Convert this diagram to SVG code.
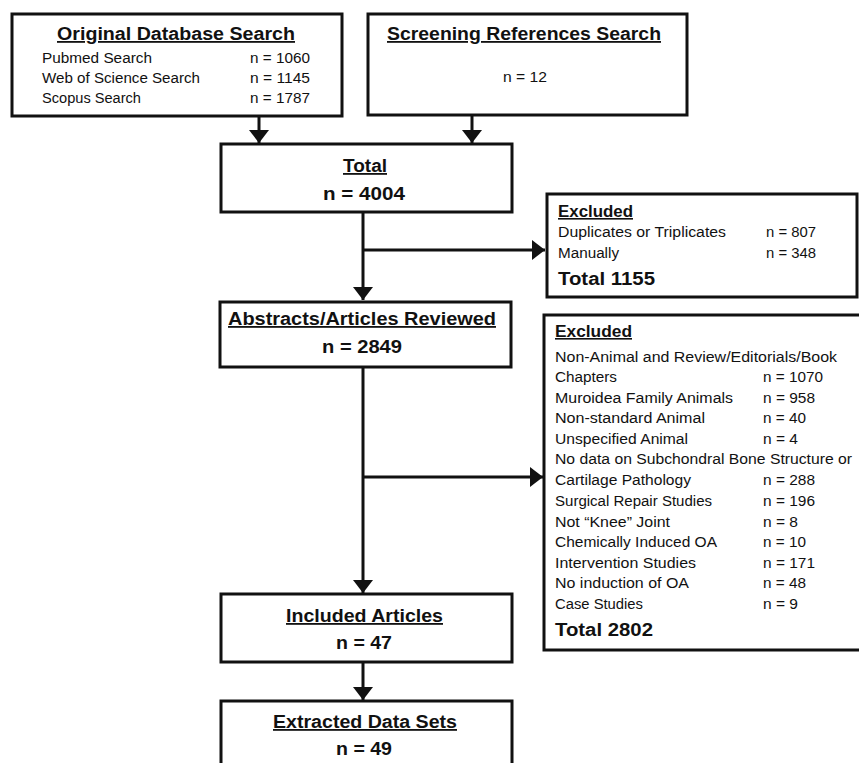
<svg xmlns="http://www.w3.org/2000/svg" width="859" height="763" viewBox="0 0 859 763">
<style>
.box{fill:#fff;stroke:#111;stroke-width:3}
.c{fill:none;stroke:#111;stroke-width:3}
text{font-family:"Liberation Sans",Arial,sans-serif;fill:#111}
.h{font-weight:bold;font-size:18px;text-decoration:underline}
.hs{font-weight:bold;font-size:16px;text-decoration:underline}
.b{font-weight:bold;font-size:18px}
.s{font-size:14px}
</style>
<defs>
<marker id="ah" viewBox="0 0 13 20" refX="13" refY="10" markerWidth="13" markerHeight="20" markerUnits="userSpaceOnUse" orient="auto">
<path d="M0,0 L13,10 L0,20 z" fill="#111"/>
</marker>
</defs>
<rect width="859" height="763" fill="#fff"/>

<g id="connectors">
<line class="c" x1="259" y1="116" x2="259" y2="143" marker-end="url(#ah)"/>
<line class="c" x1="472" y1="116" x2="472" y2="143" marker-end="url(#ah)"/>
<line class="c" x1="363" y1="212" x2="363" y2="300" marker-end="url(#ah)"/>
<line class="c" x1="363" y1="250" x2="545" y2="250" marker-end="url(#ah)"/>
<line class="c" x1="363" y1="367" x2="363" y2="593" marker-end="url(#ah)"/>
<line class="c" x1="363" y1="477" x2="543" y2="477" marker-end="url(#ah)"/>
<line class="c" x1="363" y1="662" x2="363" y2="700" marker-end="url(#ah)"/>
</g>

<g id="original">
<rect class="box" x="12" y="14" width="330" height="102"/>
<text class="h" x="57" y="40" textLength="238" lengthAdjust="spacingAndGlyphs">Original Database Search</text>
<text class="s" x="42" y="63" textLength="110" lengthAdjust="spacingAndGlyphs">Pubmed Search</text>
<text class="s" x="250" y="63" textLength="60" lengthAdjust="spacingAndGlyphs">n = 1060</text>
<text class="s" x="42" y="83" textLength="158" lengthAdjust="spacingAndGlyphs">Web of Science Search</text>
<text class="s" x="250" y="83" textLength="60" lengthAdjust="spacingAndGlyphs">n = 1145</text>
<text class="s" x="42" y="103" textLength="99" lengthAdjust="spacingAndGlyphs">Scopus Search</text>
<text class="s" x="250" y="103" textLength="60" lengthAdjust="spacingAndGlyphs">n = 1787</text>
</g>

<g id="screening">
<rect class="box" x="368" y="14" width="319" height="101"/>
<text class="h" x="387" y="40" textLength="274" lengthAdjust="spacingAndGlyphs">Screening References Search</text>
<text class="s" x="503" y="82" textLength="44" lengthAdjust="spacingAndGlyphs">n = 12</text>
</g>

<g id="total">
<rect class="box" x="221" y="144" width="291" height="68"/>
<text class="h" x="343" y="172" textLength="44" lengthAdjust="spacingAndGlyphs">Total</text>
<text class="b" x="323" y="200" textLength="82" lengthAdjust="spacingAndGlyphs">n = 4004</text>
</g>

<g id="excluded1">
<rect class="box" x="547" y="194" width="310" height="103"/>
<text class="hs" x="558" y="217" textLength="75" lengthAdjust="spacingAndGlyphs">Excluded</text>
<text class="s" x="558" y="237" textLength="168" lengthAdjust="spacingAndGlyphs">Duplicates or Triplicates</text>
<text class="s" x="766" y="237" textLength="50" lengthAdjust="spacingAndGlyphs">n = 807</text>
<text class="s" x="558" y="258" textLength="61" lengthAdjust="spacingAndGlyphs">Manually</text>
<text class="s" x="766" y="258" textLength="50" lengthAdjust="spacingAndGlyphs">n = 348</text>
<text class="b" x="558" y="285" textLength="97" lengthAdjust="spacingAndGlyphs">Total 1155</text>
</g>

<g id="abstracts">
<rect class="box" x="220" y="302" width="291" height="65"/>
<text class="h" x="228" y="325" textLength="268" lengthAdjust="spacingAndGlyphs">Abstracts/Articles Reviewed</text>
<text class="b" x="322" y="353" textLength="80" lengthAdjust="spacingAndGlyphs">n = 2849</text>
</g>

<g id="excluded2">
<rect class="box" x="544" y="315" width="330" height="335"/>
<text class="hs" x="555" y="337" textLength="77" lengthAdjust="spacingAndGlyphs">Excluded</text>
<text class="s" x="555" y="362" textLength="282" lengthAdjust="spacingAndGlyphs">Non-Animal and Review/Editorials/Book</text>
<text class="s" x="555" y="382" textLength="62" lengthAdjust="spacingAndGlyphs">Chapters</text>
<text class="s" x="763" y="382" textLength="60" lengthAdjust="spacingAndGlyphs">n = 1070</text>
<text class="s" x="555" y="403" textLength="178" lengthAdjust="spacingAndGlyphs">Muroidea Family Animals</text>
<text class="s" x="763" y="403" textLength="52" lengthAdjust="spacingAndGlyphs">n = 958</text>
<text class="s" x="555" y="423" textLength="150" lengthAdjust="spacingAndGlyphs">Non-standard Animal</text>
<text class="s" x="763" y="423" textLength="43" lengthAdjust="spacingAndGlyphs">n = 40</text>
<text class="s" x="555" y="444" textLength="133" lengthAdjust="spacingAndGlyphs">Unspecified Animal</text>
<text class="s" x="763" y="444" textLength="35" lengthAdjust="spacingAndGlyphs">n = 4</text>
<text class="s" x="555" y="464" textLength="297" lengthAdjust="spacingAndGlyphs">No data on Subchondral Bone Structure or</text>
<text class="s" x="555" y="485" textLength="136" lengthAdjust="spacingAndGlyphs">Cartilage Pathology</text>
<text class="s" x="763" y="485" textLength="52" lengthAdjust="spacingAndGlyphs">n = 288</text>
<text class="s" x="555" y="506" textLength="157" lengthAdjust="spacingAndGlyphs">Surgical Repair Studies</text>
<text class="s" x="763" y="506" textLength="52" lengthAdjust="spacingAndGlyphs">n = 196</text>
<text class="s" x="555" y="527" textLength="115" lengthAdjust="spacingAndGlyphs">Not “Knee” Joint</text>
<text class="s" x="763" y="527" textLength="35" lengthAdjust="spacingAndGlyphs">n = 8</text>
<text class="s" x="555" y="547" textLength="162" lengthAdjust="spacingAndGlyphs">Chemically Induced OA</text>
<text class="s" x="763" y="547" textLength="43" lengthAdjust="spacingAndGlyphs">n = 10</text>
<text class="s" x="555" y="568" textLength="141" lengthAdjust="spacingAndGlyphs">Intervention Studies</text>
<text class="s" x="763" y="568" textLength="52" lengthAdjust="spacingAndGlyphs">n = 171</text>
<text class="s" x="555" y="588" textLength="134" lengthAdjust="spacingAndGlyphs">No induction of OA</text>
<text class="s" x="763" y="588" textLength="43" lengthAdjust="spacingAndGlyphs">n = 48</text>
<text class="s" x="555" y="609" textLength="88" lengthAdjust="spacingAndGlyphs">Case Studies</text>
<text class="s" x="763" y="609" textLength="35" lengthAdjust="spacingAndGlyphs">n = 9</text>
<text class="b" x="555" y="636" textLength="98" lengthAdjust="spacingAndGlyphs">Total 2802</text>
</g>

<g id="included">
<rect class="box" x="221" y="594" width="291" height="68"/>
<text class="h" x="286" y="622" textLength="157" lengthAdjust="spacingAndGlyphs">Included Articles</text>
<text class="b" x="336" y="649" textLength="56" lengthAdjust="spacingAndGlyphs">n = 47</text>
</g>

<g id="extracted">
<rect class="box" x="221" y="701" width="291" height="80"/>
<text class="h" x="273" y="728" textLength="184" lengthAdjust="spacingAndGlyphs">Extracted Data Sets</text>
<text class="b" x="336" y="755" textLength="56" lengthAdjust="spacingAndGlyphs">n = 49</text>
</g>
</svg>
